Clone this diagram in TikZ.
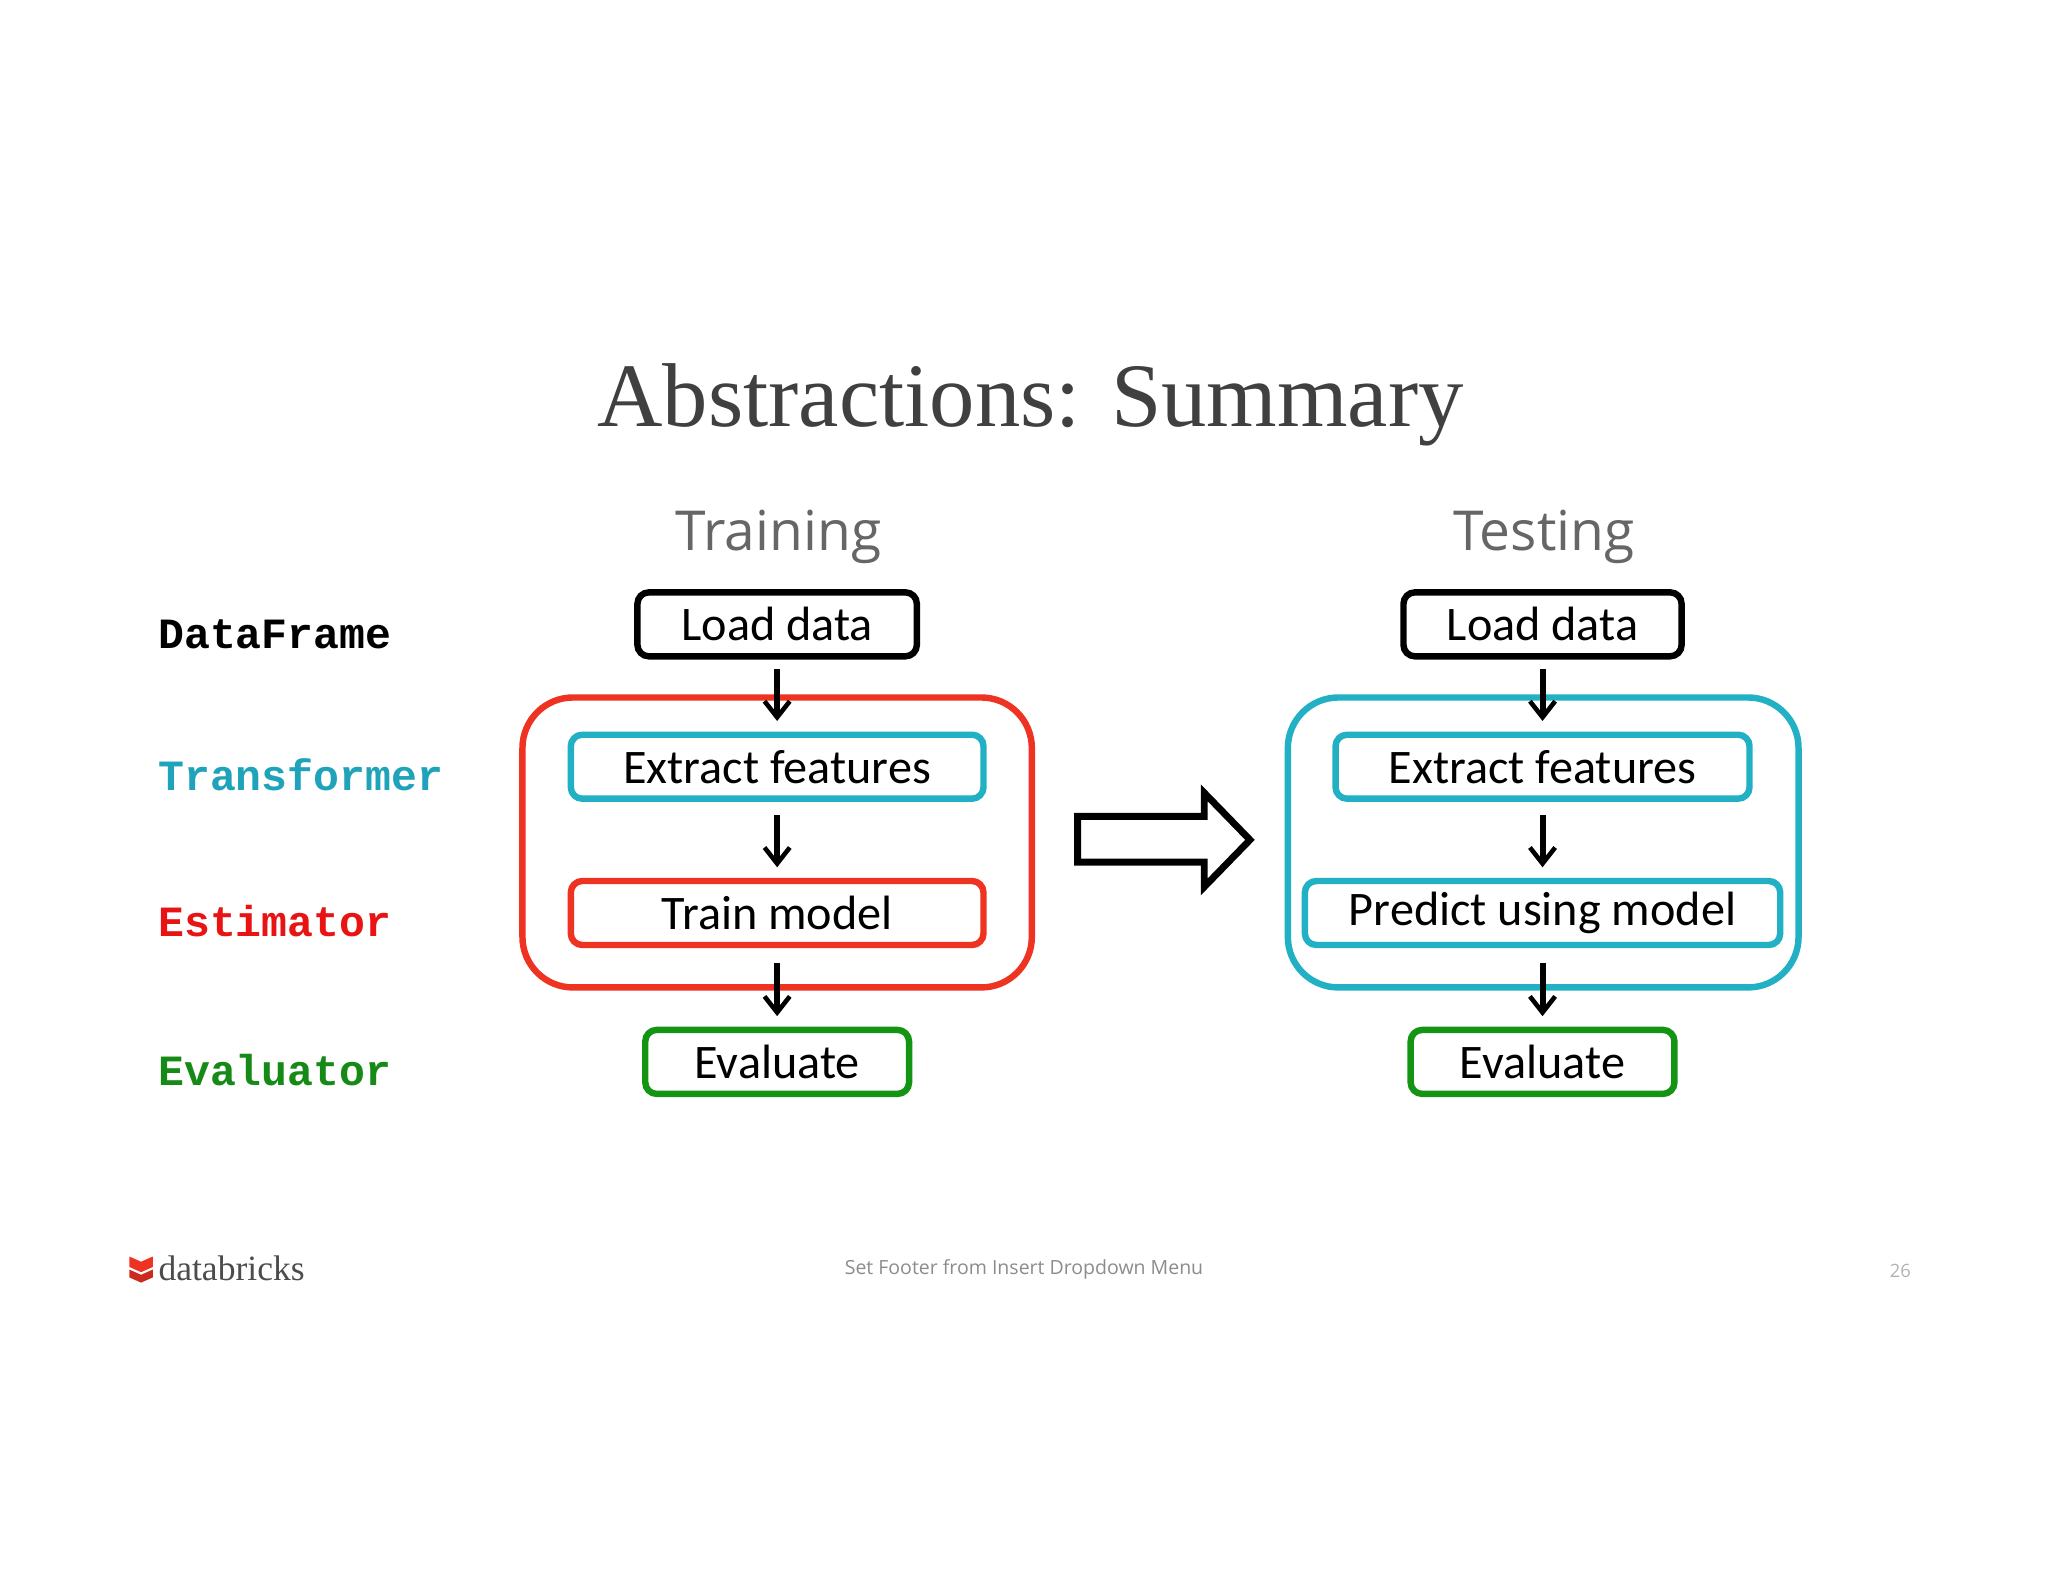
\documentclass[tikz,border=0pt]{standalone}
\usetikzlibrary{arrows.meta}
\usepackage{fontspec}
\setmainfont{Carlito}
\newfontfamily\titlefont{Liberation Serif}
\newfontfamily\lightfont{Open Sans}
\newfontfamily\monofont{Liberation Mono}
\definecolor{cred}{HTML}{EE3322}
\definecolor{ccyan}{HTML}{22B0C4}
\definecolor{cgreen}{HTML}{139413}
\definecolor{lcyan}{HTML}{1FA3BA}
\definecolor{lred}{HTML}{E81414}
\definecolor{lgreen}{HTML}{168A16}
\begin{document}
\begin{tikzpicture}[x=0.02cm,y=-0.02cm,
  box/.style={draw,line width=2.8pt,rounded corners=5pt,minimum height=0.98cm,font=\fontsize{21}{24}\selectfont,inner sep=0pt},
  grp/.style={line width=2.8pt,rounded corners=22pt},
  lab/.style={anchor=west,font=\monofont\bfseries\fontsize{18.8}{22}\selectfont},
  arr/.style={-{Straight Barb[length=7pt,width=11pt,line width=2pt]},line width=2.6pt}]
\useasboundingbox (0,0) rectangle (1568,1211);
\node (title) at (789,310) {\titlefont\fontsize{39.5}{44}\selectfont\color{black!75}Abstractions: Summary};
\node (tr) at (596,411) {\lightfont\fontsize{24}{30}\selectfont\color{black!60}Training};
\node (te) at (1182,411) {\lightfont\fontsize{24}{30}\selectfont\color{black!60}Testing};
\node[lab] (l1) at (115,486) {DataFrame};
\node[lab,text=lcyan] (l2) at (115,593) {Transformer};
\node[lab,text=lred] (l3) at (115,705) {Estimator};
\node[lab,text=lgreen] (l4) at (115,819) {Evaluator};
% training
\draw[grp,cred] (400,534) rectangle (790,756);
\node[box,minimum width=4.28cm] (a1) at (595,478) {Load data};
\node[box,ccyan,text=black,minimum width=6.32cm] (a2) at (595,587) {Extract features};
\node[box,cred,text=black,minimum width=6.32cm] (a3) at (595,699) {Train model};
\node[box,cgreen,text=black,minimum width=4.04cm] (a4) at (595,813) {Evaluate};
\coordinate (a1b) at (595,512); \coordinate (a1e) at (595,552);
\coordinate (a2b) at (595,624); \coordinate (a2e) at (595,664);
\coordinate (a3b) at (595,737); \coordinate (a3e) at (595,778);
\draw[arr] (a1b) -- (a1e);
\draw[arr] (a2b) -- (a2e);
\draw[arr] (a3b) -- (a3e);
% testing
\draw[grp,ccyan] (986,534) rectangle (1377,756);
\node[box,minimum width=4.26cm] (b1) at (1181,478) {Load data};
\node[box,ccyan,text=black,minimum width=6.34cm] (b2) at (1181,587) {Extract features};
\node[box,ccyan,text=black,minimum width=7.28cm] (b3) at (1181,699) {Predict using model};
\node[box,cgreen,text=black,minimum width=4.04cm] (b4) at (1181,813) {Evaluate};
\coordinate (b1b) at (1181,512); \coordinate (b1e) at (1181,552);
\coordinate (b2b) at (1181,624); \coordinate (b2e) at (1181,664);
\coordinate (b3b) at (1181,737); \coordinate (b3e) at (1181,778);
\draw[arr] (b1b) -- (b1e);
\draw[arr] (b2b) -- (b2e);
\draw[arr] (b3b) -- (b3e);
% big arrow
\draw[line width=3pt,line join=miter] (825,625) -- (922,625) -- (922,607) -- (957,643) -- (922,679) -- (922,660) -- (825,660) -- cycle;
% footer
\fill[cred] (108,966) -- (117,962) -- (117,970) -- (108,974) -- (99,970) -- (99,962) -- cycle;
\fill[cred!85!black] (108,976) -- (117,972) -- (117,978) -- (108,982) -- (99,978) -- (99,972) -- cycle;
\node[anchor=west,inner sep=0pt] (logo) at (121,971) {\titlefont\fontsize{15.5}{18}\selectfont\color{black!70}databricks};
\node (foot) at (784,972) {\lightfont\fontsize{8.5}{10}\selectfont\color{black!45}Set Footer from Insert Dropdown Menu};
\node (pg) at (1455,973) {\lightfont\fontsize{8}{10}\selectfont\color{black!30}26};
\end{tikzpicture}
\end{document}
